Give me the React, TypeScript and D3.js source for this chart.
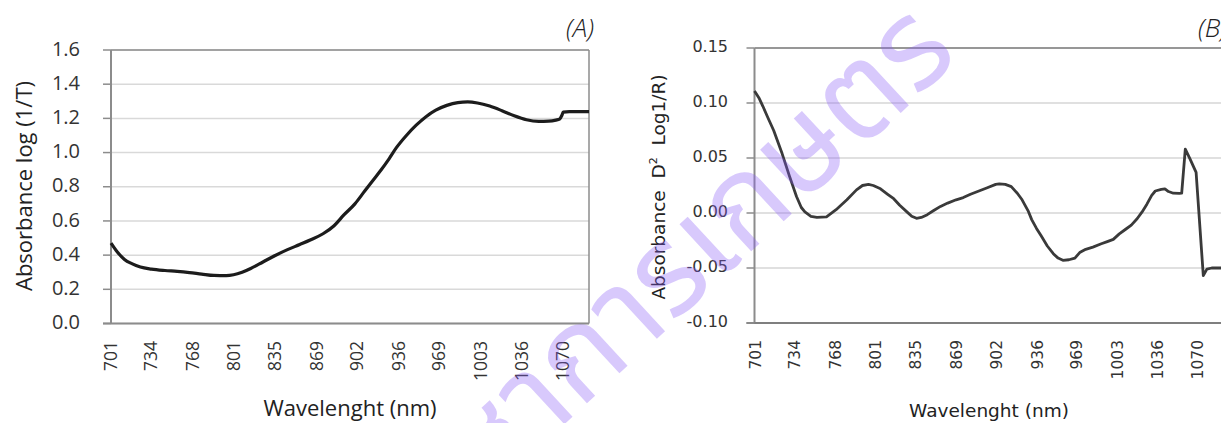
import React from 'react';
import * as d3 from 'd3';

const wavelengthTicks = [701, 734, 768, 801, 835, 869, 902, 936, 969, 1003, 1036, 1070];
const absTicks = [0, 0.2, 0.4, 0.6, 0.8, 1.0, 1.2, 1.4, 1.6];
const d2Ticks = [-0.1, -0.05, 0, 0.05, 0.1, 0.15];

const absWavelength = [701, 706, 712, 718, 725, 734, 745, 755, 765, 775, 785, 795, 801, 808, 815, 825, 835, 845, 855, 864, 874, 883, 891, 900, 908, 915, 921, 928, 934, 942, 950, 958, 966, 975, 984, 992, 1000, 1010, 1020, 1030, 1040, 1050, 1058, 1064, 1067, 1069, 1070, 1075, 1091];
const absValue = [0.47, 0.42, 0.375, 0.35, 0.33, 0.318, 0.31, 0.305, 0.298, 0.289, 0.281, 0.28, 0.285, 0.3, 0.322, 0.36, 0.398, 0.432, 0.462, 0.49, 0.525, 0.572, 0.635, 0.7, 0.775, 0.84, 0.895, 0.965, 1.03, 1.1, 1.16, 1.21, 1.248, 1.276, 1.292, 1.296, 1.29, 1.272, 1.245, 1.215, 1.192, 1.183, 1.184, 1.19, 1.196, 1.22, 1.237, 1.24, 1.24];

const d2Wavelength = [701, 705, 708, 712, 717, 724, 730, 736, 740, 743, 748, 753, 761, 769, 778, 786, 791, 796, 800, 806, 812, 817, 822, 828, 832, 836, 840, 845, 850, 856, 862, 869, 875, 881, 888, 895, 902, 905, 910, 915, 920, 924, 929, 932, 936, 940, 945, 950, 954, 958, 963, 968, 972, 977, 983, 990, 995, 1000, 1005, 1010, 1015, 1020, 1024, 1028, 1032, 1035, 1040, 1043, 1046, 1050, 1055, 1057, 1060, 1064, 1069, 1075, 1078, 1082, 1091];
const d2Value = [0.111, 0.104, 0.097, 0.087, 0.075, 0.054, 0.034, 0.015, 0.005, 0.001, -0.003, -0.004, -0.0035, 0.003, 0.012, 0.021, 0.025, 0.026, 0.025, 0.022, 0.017, 0.013, 0.007, 0.001, -0.003, -0.0048, -0.004, -0.0015, 0.002, 0.006, 0.009, 0.012, 0.014, 0.017, 0.02, 0.023, 0.026, 0.0265, 0.026, 0.024, 0.018, 0.012, 0.002, -0.006, -0.014, -0.021, -0.03, -0.037, -0.041, -0.043, -0.0425, -0.041, -0.036, -0.033, -0.031, -0.028, -0.026, -0.024, -0.019, -0.015, -0.011, -0.005, 0.001, 0.008, 0.016, 0.02, 0.0215, 0.022, 0.0195, 0.018, 0.0178, 0.018, 0.058, 0.049, 0.037, -0.057, -0.051, -0.05, -0.05];

const FONT_A = "'Open Sans', 'Noto Sans', sans-serif";
const FONT_B = "'DejaVu Sans', Verdana, sans-serif";

export default function App() {
  // Panel A scales
  const xA = d3.scaleLinear().domain([701, 1091]).range([111, 589]);
  const yA = d3.scaleLinear().domain([0, 1.6]).range([323.5, 50]);
  // Panel B scales
  const xB = d3.scaleLinear().domain([701, 1091]).range([754.5, 1222.5]);
  const yB = d3.scaleLinear().domain([-0.1, 0.15]).range([323, 48]);

  const absPts: [number, number][] = absWavelength.map((w, i) => [w, absValue[i]]);
  const d2Pts: [number, number][] = d2Wavelength.map((w, i) => [w, d2Value[i]]);

  const lineA = d3.line<[number, number]>().x(d => xA(d[0])).y(d => yA(d[1])).curve(d3.curveMonotoneX);
  const lineB = d3.line<[number, number]>().x(d => xB(d[0])).y(d => yB(d[1])).curve(d3.curveLinear);

  const [ax0, ax1] = xA.range();
  const [bx0, bx1] = xB.range();

  return (
    <div style={{ position: 'absolute', left: 0, top: 0 }}>
      <svg width={1221} height={423} style={{ display: 'block', background: '#fff' }}>
        <rect x={0} y={0} width={1221} height={423} fill="#fff" />

        {/* ---------- Panel A ---------- */}
        <g>
          {absTicks.map(t => (
            <line key={'ga' + t} x1={ax0} x2={ax1} y1={yA(t)} y2={yA(t)} stroke="#d9d9d9" strokeWidth={1.5} />
          ))}
          <line x1={ax0} x2={ax1} y1={yA(1.6)} y2={yA(1.6)} stroke="#8c8c8c" strokeWidth={1.5} />
          <line x1={ax1} x2={ax1} y1={yA(1.6)} y2={yA(0)} stroke="#8c8c8c" strokeWidth={1.5} />
          <line x1={ax0} x2={ax0} y1={yA(1.6)} y2={yA(0)} stroke="#8c8c8c" strokeWidth={2} />
          <line x1={ax0 - 8} x2={ax1} y1={yA(0)} y2={yA(0)} stroke="#8c8c8c" strokeWidth={2} />
          {absTicks.map(t => (
            <line key={'ta' + t} x1={ax0 - 8} x2={ax0} y1={yA(t)} y2={yA(t)} stroke="#8c8c8c" strokeWidth={1.5} />
          ))}
          {absTicks.map(t => (
            <text key={'la' + t} x={80} y={yA(t) + 5.6} textAnchor="end" fontFamily={FONT_A} fontSize={20} fill="#333">
              {t.toFixed(1)}
            </text>
          ))}
          {wavelengthTicks.map(w => (
            <text key={'xa' + w} transform={`translate(${xA(w) + 6},341) rotate(-90)`} textAnchor="end" fontFamily={FONT_A} fontSize={17.5} fill="#333">
              {w}
            </text>
          ))}
          <path d={lineA(absPts) || ''} fill="none" stroke="#1c1c1c" strokeWidth={3.2} strokeLinejoin="round" />
          <text transform="translate(32,186) rotate(-90)" textAnchor="middle" fontFamily={FONT_A} fontSize={22} fill="#222">
            Absorbance log (1/T)
          </text>
          <text x={(ax0 + ax1) / 2} y={416} textAnchor="middle" fontFamily={FONT_A} fontSize={22} fill="#222">
            Wavelenght (nm)
          </text>
          <text x={594} y={37} textAnchor="end" fontFamily={FONT_A} fontStyle="italic" fontWeight={300} fontSize={26} fill="#222">
            (A)
          </text>
        </g>

        {/* ---------- Panel B ---------- */}
        <g>
          {d2Ticks.map(t => (
            <line key={'gb' + t} x1={bx0} x2={bx1} y1={yB(t)} y2={yB(t)} stroke="#d6d6d6" strokeWidth={1.5} />
          ))}
          <line x1={bx0} x2={bx1} y1={yB(0.15)} y2={yB(0.15)} stroke="#7f7f7f" strokeWidth={1.5} />
          <line x1={bx0} x2={bx0} y1={yB(0.15)} y2={yB(-0.1)} stroke="#8c8c8c" strokeWidth={2} />
          <line x1={bx0 - 8} x2={bx1} y1={yB(-0.1)} y2={yB(-0.1)} stroke="#7f7f7f" strokeWidth={2} />
          {d2Ticks.map(t => (
            <line key={'tb' + t} x1={bx0 - 8} x2={bx0} y1={yB(t)} y2={yB(t)} stroke="#8c8c8c" strokeWidth={1.5} />
          ))}
          {d2Ticks.map(t => (
            <text key={'lb' + t} x={728} y={yB(t) + 3.5} textAnchor="end" fontFamily={FONT_B} fontSize={16} fill="#333">
              {t.toFixed(2)}
            </text>
          ))}
          {wavelengthTicks.map(w => (
            <text key={'xb' + w} transform={`translate(${xB(w) + 6},340) rotate(-90)`} textAnchor="end" fontFamily={FONT_B} fontSize={15.5} fill="#333">
              {w}
            </text>
          ))}
          <path d={lineB(d2Pts) || ''} fill="none" stroke="#3a3a3a" strokeWidth={2.8} strokeLinejoin="round" />
          <text transform="translate(665,187) rotate(-90)" textAnchor="middle" fontFamily={FONT_B} fontSize={18.5} fill="#222" style={{ whiteSpace: 'pre' }}>
            <tspan>{'Absorbance  D'}</tspan>
            <tspan dy={-8} fontSize={11}>2</tspan>
            <tspan dy={8}>{'  Log1/R)'}</tspan>
          </text>
          <text x={989} y={417} textAnchor="middle" fontFamily={FONT_B} fontSize={18.5} fill="#222">
            Wavelenght (nm)
          </text>
          <text x={1227} y={37} textAnchor="end" fontFamily={FONT_A} fontStyle="italic" fontWeight={300} fontSize={26} fill="#222">
            (B)
          </text>
        </g>

        {/* watermark */}
        <text
          transform="translate(961,57) rotate(-42.8)"
          textAnchor="end"
          fontFamily="'Noto Sans Thai', 'Noto Sans Thai UI', 'Loma', 'Kinnari', sans-serif"
          fontSize={125}
          fill="#8a5cf6"
          fillOpacity={0.33}
        >
          วิชาการเกษตร
        </text>
      </svg>
    </div>
  );
}
